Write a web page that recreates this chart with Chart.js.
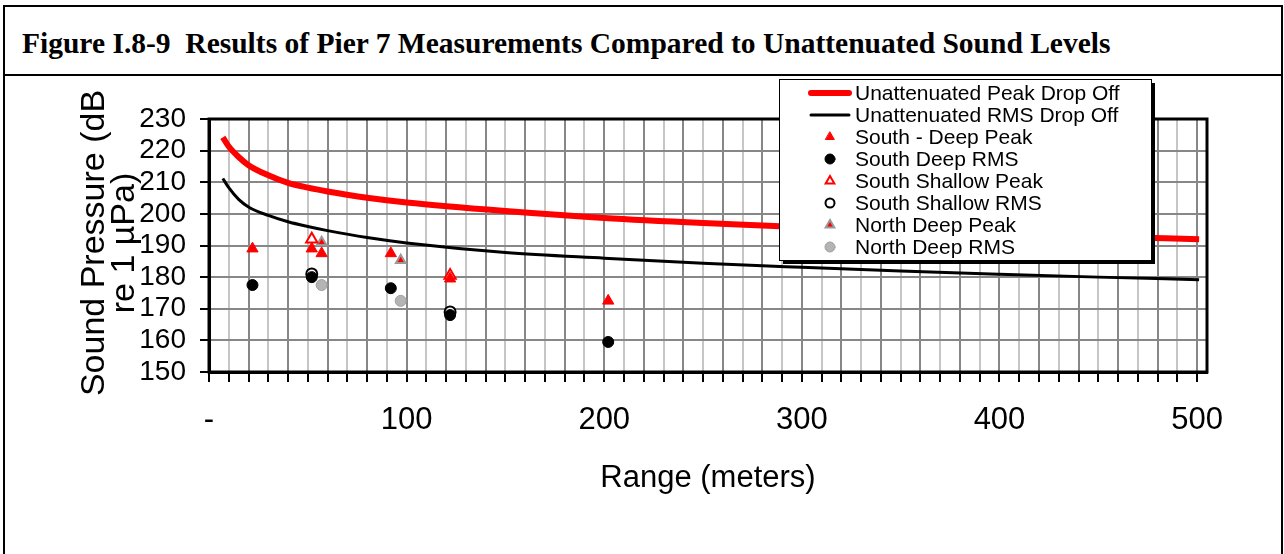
<!DOCTYPE html>
<html>
<head>
<meta charset="utf-8">
<script src="https://cdn.jsdelivr.net/npm/chart.js@4/dist/chart.umd.min.js"></script>
<style>
  body { margin: 0; width: 1284px; height: 554px; overflow: hidden; background: #fff; position: relative; }
  #marco { position: absolute; left: 3px; top: 5px; width: 1276px; height: 600px; border: 2px solid #000; }
  #titulo { position: absolute; left: 3px; top: 5px; width: 1278px; height: 69px; border-bottom: 2px solid #000;
            font: bold 29.5px "Liberation Serif", "Times New Roman", serif; line-height: 34px; }
  #titulo span { position: absolute; left: 19px; top: 21px; white-space: pre; }
  canvas { position: absolute; left: 0; top: 0; }
</style>
</head>
<body>
<div id="marco"></div>
<div id="titulo"><span>Figure I.8-9  Results of Pier 7 Measurements Compared to Unattenuated Sound Levels</span></div>
<canvas id="myChart" width="1284" height="554"></canvas>
<script>
// Curvas sin atenuacion
const rangoCurva = [7, 10, 15, 20, 30, 40, 50, 60, 80, 100, 150, 200, 250, 300, 350, 400, 450, 501];
const picoSinAtenuar = [224.2, 221.3, 218, 215.4, 212.2, 209.8, 208.3, 207.1, 205.1, 203.6, 200.9, 198.7, 197.1, 195.8, 194.6, 193.6, 192.8, 192.0];
const rmsSinAtenuar = [211.2, 208.3, 204.6, 202.2, 199.5, 197.5, 196, 194.7, 192.5, 190.8, 187.8, 186, 184.4, 183.1, 181.9, 180.9, 180, 179.2];

// Mediciones
const surProfPicoRango = [22, 52, 57, 92, 122, 202];
const surProfPico = [189, 189, 187.5, 187.5, 179.5, 172.5];
const surProfRmsRango = [22, 52, 92, 122, 202];
const surProfRms = [177.5, 180, 176.5, 168, 159.5];
const surSomeroPicoRango = [52, 122];
const surSomeroPico = [192, 180.5];
const surSomeroRmsRango = [52, 122];
const surSomeroRms = [181, 169];
const norteProfPicoRango = [57, 97];
const norteProfPico = [191, 185.3];
const norteProfRmsRango = [57, 97];
const norteProfRms = [177.5, 172.5];

const etiquetasY = [150, 160, 170, 180, 190, 200, 210, 220, 230];

const fuente = '"Liberation Sans", Arial, sans-serif';

function puntos(xs, ys){
    return xs.map((x, i) => ({x: x, y: ys[i]}));
}

// Leyenda dibujada encima del area del grafico
const leyenda = {
    id: 'leyenda',
    afterDatasetsDraw(chart){
        const ctx = chart.ctx;
        const x0 = 779, y0 = 79, w = 372, h = 181;
        ctx.save();
        ctx.fillStyle = '#000';
        ctx.fillRect(x0 + 4, y0 + 4, w, h);
        ctx.fillStyle = '#fff';
        ctx.fillRect(x0, y0, w, h);
        ctx.strokeStyle = '#000';
        ctx.lineWidth = 1;
        ctx.strokeRect(x0 + 0.5, y0 + 0.5, w, h);
        ctx.font = '21px ' + fuente;
        ctx.textBaseline = 'middle';
        chart.data.datasets.forEach((ds, i) => {
            const y = 93 + i * 22;
            if (ds.showLine){
                ctx.strokeStyle = ds.borderColor;
                ctx.lineWidth = ds.borderWidth;
                ctx.lineCap = 'round';
                ctx.beginPath();
                ctx.moveTo(811, y);
                ctx.lineTo(849, y);
                ctx.stroke();
            } else {
                ctx.fillStyle = ds.backgroundColor;
                ctx.strokeStyle = ds.borderColor;
                ctx.lineWidth = ds.borderWidth;
                Chart.helpers.drawPoint(ctx, {pointStyle: ds.pointStyle, radius: ds.legendRadius, rotation: 0, borderWidth: ds.borderWidth}, 830, y);
            }
            ctx.fillStyle = '#000';
            ctx.fillText(ds.label, 855, y + 1);
        });
        ctx.restore();
    }
};

// Marco negro y titulos de ejes
const marcoEjes = {
    id: 'marcoEjes',
    beforeDatasetsDraw(chart){
        const a = chart.chartArea;
        const ctx = chart.ctx;
        ctx.save();
        ctx.strokeStyle = '#000';
        ctx.lineWidth = 3;
        ctx.strokeRect(a.left, a.top, a.right - a.left, a.bottom - a.top);
        ctx.restore();
    },
    afterDraw(chart){
        const ctx = chart.ctx;
        ctx.save();
        ctx.fillStyle = '#000';
        ctx.textAlign = 'center';
        ctx.textBaseline = 'middle';
        ctx.font = '31px ' + fuente;
        ctx.fillText('Range (meters)', 708, 478);
        ctx.translate(0, 243);
        ctx.rotate(-Math.PI / 2);
        ctx.font = '34px ' + fuente;
        ctx.fillText('Sound Pressure (dB', 0, 95);
        ctx.fillText('re 1 µPa)', 0, 125);
        ctx.restore();
    }
};

const ctx = document.getElementById('myChart');

new Chart(ctx, {
    type: 'scatter',
    data: {
        datasets: [{
            label: 'Unattenuated Peak Drop Off',
            data: puntos(rangoCurva, picoSinAtenuar),
            showLine: true,
            borderColor: '#ff0000',
            borderWidth: 6,
            pointRadius: 0,
            cubicInterpolationMode: 'monotone'
        },
        {
            label: 'Unattenuated RMS Drop Off',
            data: puntos(rangoCurva, rmsSinAtenuar),
            showLine: true,
            borderColor: '#000000',
            borderWidth: 3,
            pointRadius: 0,
            cubicInterpolationMode: 'monotone'
        },
        {
            label: 'South - Deep Peak',
            data: puntos(surProfPicoRango, surProfPico),
            pointStyle: 'triangle',
            pointRadius: 6.5,
            legendRadius: 5,
            backgroundColor: '#ff0000',
            borderColor: '#ff0000',
            borderWidth: 1
        },
        {
            label: 'South Deep RMS',
            data: puntos(surProfRmsRango, surProfRms),
            pointStyle: 'circle',
            pointRadius: 5.5,
            legendRadius: 5,
            backgroundColor: '#000000',
            borderColor: '#000000',
            borderWidth: 1
        },
        {
            label: 'South Shallow Peak',
            data: puntos(surSomeroPicoRango, surSomeroPico),
            pointStyle: 'triangle',
            pointRadius: 6.5,
            legendRadius: 5,
            backgroundColor: '#ffffff',
            borderColor: '#ff0000',
            borderWidth: 2
        },
        {
            label: 'South Shallow RMS',
            data: puntos(surSomeroRmsRango, surSomeroRms),
            pointStyle: 'circle',
            pointRadius: 5.5,
            legendRadius: 4.5,
            backgroundColor: '#ffffff',
            borderColor: '#000000',
            borderWidth: 2
        },
        {
            label: 'North Deep Peak',
            data: puntos(norteProfPicoRango, norteProfPico),
            pointStyle: 'triangle',
            pointRadius: 5.5,
            legendRadius: 5,
            backgroundColor: '#ff0000',
            borderColor: '#999999',
            borderWidth: 2
        },
        {
            label: 'North Deep RMS',
            data: puntos(norteProfRmsRango, norteProfRms),
            pointStyle: 'circle',
            pointRadius: 5.5,
            legendRadius: 5,
            backgroundColor: '#b4b4b4',
            borderColor: '#a0a0a0',
            borderWidth: 1
        }]
    },
    options: {
        responsive: false,
        animation: false,
        devicePixelRatio: 1,
        layout: {
            padding: {left: 0, top: 119, right: 77, bottom: 0}
        },
        plugins: {
            legend: {display: false},
            tooltip: {enabled: false}
        },
        scales: {
            x: {
                type: 'linear',
                min: 0,
                max: 505,
                afterFit(scale){ scale.height = 182; },
                ticks: {
                    stepSize: 10,
                    includeBounds: false,
                    autoSkip: false,
                    maxRotation: 0,
                    padding: 20,
                    color: '#000',
                    font: {family: fuente, size: 31},
                    callback: v => v === 0 ? '-' : (v % 100 === 0 ? String(v) : '')
                },
                grid: {
                    color: c => (c.tick && c.tick.value % 20 === 0) ? '#878787' : '#c6c6c6',
                    lineWidth: 2,
                    tickLength: 10,
                    tickColor: '#000',
                    tickWidth: 2
                },
                border: {color: '#000', width: 3}
            },
            y: {
                min: 150,
                max: 230,
                afterFit(scale){ scale.width = 209; },
                afterBuildTicks(scale){ scale.ticks = etiquetasY.map(v => ({value: v})); },
                ticks: {
                    autoSkip: false,
                    padding: 14,
                    color: '#000',
                    font: {family: fuente, size: 28}
                },
                grid: {
                    color: '#878787',
                    lineWidth: 2,
                    tickLength: 9,
                    tickColor: '#000',
                    tickWidth: 2
                },
                border: {color: '#000', width: 3}
            }
        }
    },
    plugins: [marcoEjes, leyenda]
});
</script>
</body>
</html>
